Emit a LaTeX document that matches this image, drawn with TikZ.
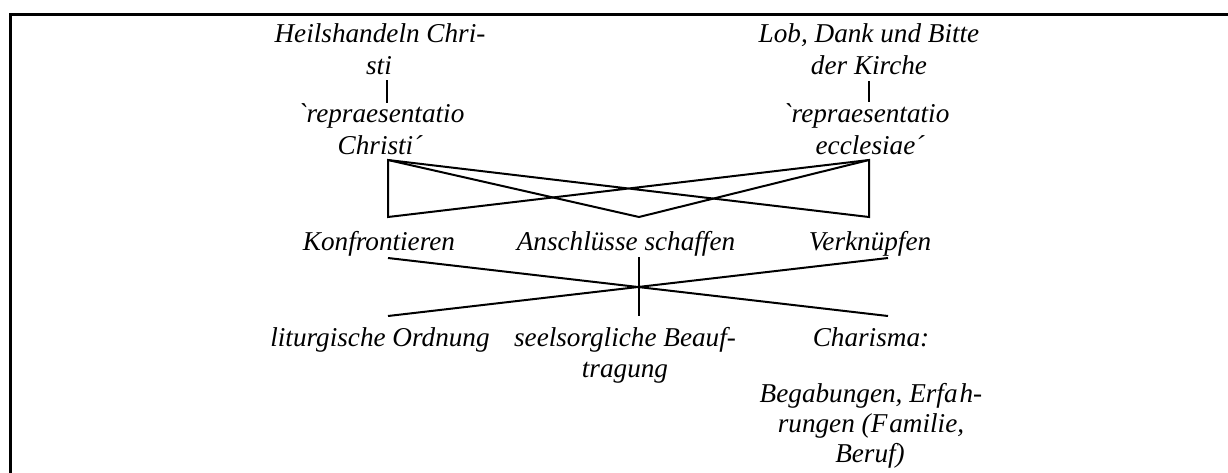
\documentclass[tikz,border=0pt]{standalone}
\usepackage{fontspec}
\setmainfont{Liberation Serif}[Ligatures=TeXOff]
\begin{document}
\begin{tikzpicture}[x=0.5pt,y=-0.5pt,
  txt/.style={font=\fontsize{13.6}{16}\selectfont\itshape, inner sep=0pt, anchor=base},
  ln/.style={line width=1pt, line join=miter},
  frame/.style={line width=1.5pt}]
\useasboundingbox (0,0) rectangle (1228,472);
% frame (cropped)
\coordinate (fb) at (10.5,480);
\coordinate (fc) at (10.5,14.5);
\coordinate (fr) at (1240,14.5);
\draw[frame] (fb) -- (fc) -- (fr);

% upper texts
\node[txt] (h1) at (380,42) {Heilshandeln Chri-};
\node[txt] (h2) at (379,74) {sti};
\node[txt] (rc1) at (381,122) {`repraesentatio};
\node[txt] (rc2) at (380,154) {Christi´};
\node[txt] (l1) at (869,42) {Lob, Dank und Bitte};
\node[txt] (l2) at (869,74) {der Kirche};
\node[txt] (re1) at (866,122) {`repraesentatio};
\node[txt] (re2) at (870,154) {ecclesiae´};

% middle texts
\node[txt] (k) at (379,250) {Konfrontieren};
\node[txt] (a) at (626,250) {Anschlüsse schaffen};
\node[txt] (v) at (870,250) {Verknüpfen};

% lower texts
\node[txt] (lo) at (380,346) {liturgische Ordnung};
\node[txt] (s1) at (625,346) {seelsorgliche Beauf-};
\node[txt] (s2) at (625,377) {tragung};
\node[txt] (c1) at (871,346) {Charisma:};
\node[txt] (c2) at (871,402) {Begabungen, Erfa\kern1pt h-};
\node[txt] (c3) at (871,432) {rungen (F\kern1pt amilie,};
\node[txt] (c4) at (870,462) {Beruf)};

% connector points
\coordinate (hA) at (387,80);
\coordinate (hB) at (387,103);
\coordinate (lA) at (869,81);
\coordinate (lB) at (869,102);
\coordinate (LT) at (388,160);
\coordinate (LB) at (388,217);
\coordinate (RT) at (869,160);
\coordinate (RB) at (869,217);
\coordinate (VB) at (639,217);
\coordinate (K) at (388,258);
\coordinate (V) at (888,258);
\coordinate (Lo) at (388,316);
\coordinate (C) at (888,316);
\coordinate (A) at (639,257);
\coordinate (S) at (639,316);

\draw[ln] (hA) -- (hB);
\draw[ln] (lA) -- (lB);
\draw[ln] (LB) -- (LT) -- (RB) -- (RT) -- cycle;
\draw[ln] (LT) -- (VB) -- (RT);
\draw[ln] (K) -- (C);
\draw[ln] (Lo) -- (V);
\draw[ln] (A) -- (S);
\end{tikzpicture}
\end{document}
